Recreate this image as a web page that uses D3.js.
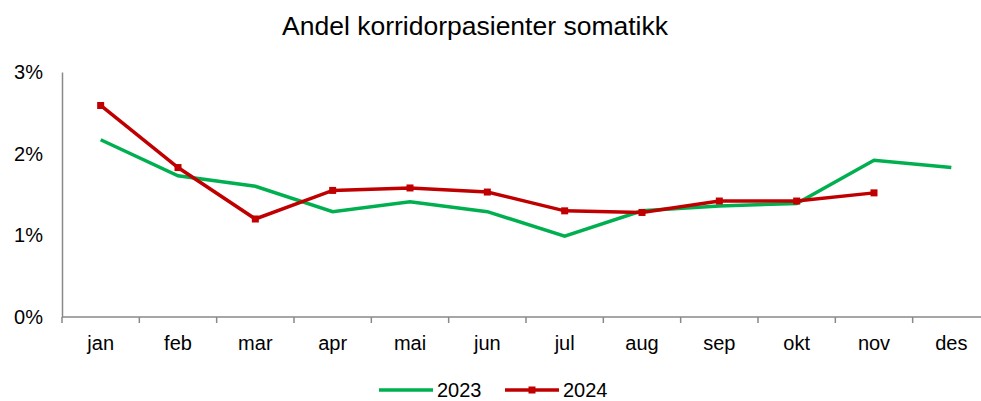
<!DOCTYPE html>
<html lang="no">
<head>
<meta charset="UTF-8">
<title>Andel korridorpasienter somatikk</title>
<script src="https://d3js.org/d3.v7.min.js"></script>
<style>
  body { margin: 0; background: #fff; font-family: Arial, "Liberation Sans", sans-serif; }
  svg text { fill: #000; }
</style>
</head>
<body>
<svg width="981" height="401"></svg>
<script>
// data
const months = ["jan", "feb", "mar", "apr", "mai", "jun", "jul", "aug", "sep", "okt", "nov", "des"];
const values2023 = [2.17, 1.73, 1.60, 1.29, 1.41, 1.29, 0.99, 1.30, 1.36, 1.39, 1.92, 1.83];
const values2024 = [2.59, 1.83, 1.20, 1.55, 1.58, 1.53, 1.30, 1.28, 1.42, 1.42, 1.52];
const yTicks = [0, 1, 2, 3];

const svg = d3.select("svg");
const plotLeft = 62, plotRight = 990, plotTop = 72, plotBottom = 317;

const x = d3.scaleBand().domain(months).range([plotLeft, plotRight]);
const y = d3.scaleLinear().domain([0, 3]).range([plotBottom, plotTop]);
const cx = m => x(m) + x.bandwidth() / 2;

svg.append("text")
  .attr("x", 475).attr("y", 35)
  .attr("text-anchor", "middle")
  .style("font-size", "26.5px")
  .text("Andel korridorpasienter somatikk");

// y axis
const yAxis = svg.append("g").attr("transform", `translate(${plotLeft},0)`)
  .call(d3.axisLeft(y).tickValues(yTicks).tickSize(0).tickFormat(d => d + "%").tickPadding(19));
yAxis.select(".domain").attr("stroke", "#898989").attr("stroke-width", 1.5);
yAxis.selectAll("text").style("font-size", "20px").attr("font-family", "Arial, 'Liberation Sans', sans-serif");

// x axis with ticks between categories
const xAxis = svg.append("g").attr("transform", `translate(0,${plotBottom})`);
xAxis.append("line").attr("x1", plotLeft).attr("x2", plotRight).attr("stroke", "#898989").attr("stroke-width", 1.5);
xAxis.selectAll(".tk").data(months.concat([null])).enter().append("line")
  .attr("x1", (d, i) => plotLeft + i * x.step()).attr("x2", (d, i) => plotLeft + i * x.step())
  .attr("y1", 0).attr("y2", 6)
  .attr("stroke", "#898989").attr("stroke-width", 1.5);
xAxis.selectAll(".lbl").data(months).enter().append("text")
  .attr("x", d => cx(d)).attr("y", 33)
  .attr("text-anchor", "middle")
  .style("font-size", "20px")
  .text(d => d);

const line = d3.line().x((d, i) => cx(months[i])).y(d => y(d));

svg.append("path").datum(values2023)
  .attr("fill", "none").attr("stroke", "#00B050").attr("stroke-width", 3.5)
  .attr("d", line);

svg.append("path").datum(values2024)
  .attr("fill", "none").attr("stroke", "#C00000").attr("stroke-width", 3.5)
  .attr("d", line);

svg.selectAll(".m24").data(values2024).enter().append("rect")
  .attr("x", (d, i) => cx(months[i]) - 3.5).attr("y", d => y(d) - 3.5)
  .attr("width", 7).attr("height", 7).attr("fill", "#C00000");

// legend
const legend = svg.append("g").attr("transform", "translate(0,390)");
legend.append("line").attr("x1", 379).attr("x2", 433).attr("stroke", "#00B050").attr("stroke-width", 3.5);
legend.append("text").attr("x", 437).attr("y", 7).style("font-size", "20px").text("2023");
legend.append("line").attr("x1", 505).attr("x2", 559).attr("stroke", "#C00000").attr("stroke-width", 3.5);
legend.append("rect").attr("x", 528.5).attr("y", -3.5).attr("width", 7).attr("height", 7).attr("fill", "#C00000");
legend.append("text").attr("x", 563).attr("y", 7).style("font-size", "20px").text("2024");
</script>
</body>
</html>
